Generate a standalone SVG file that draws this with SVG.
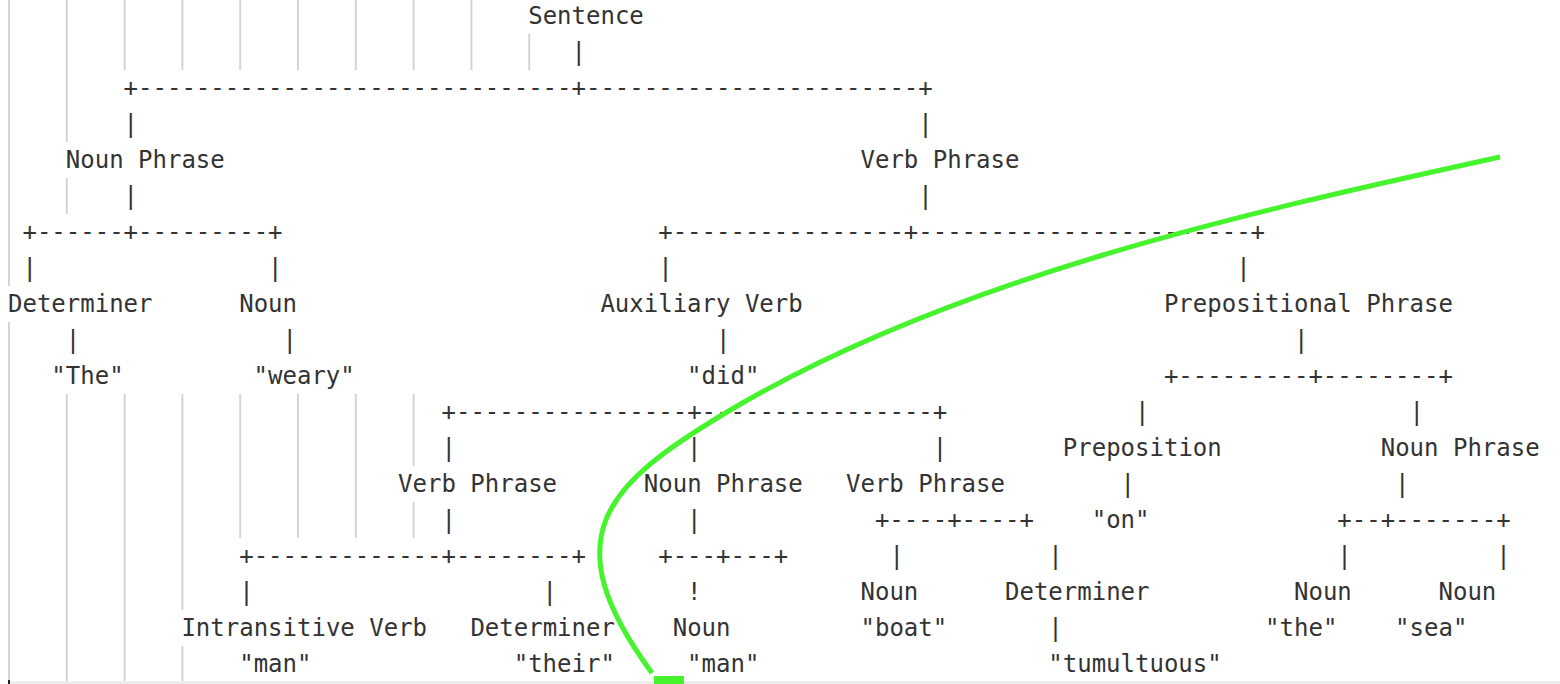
<svg xmlns="http://www.w3.org/2000/svg" width="1560" height="684" viewBox="0 0 1560 684">
<style>
.t{font-family:"DejaVu Sans Mono","Liberation Mono",monospace;font-size:24px;fill:#333}
.g{stroke:#d4d4d4;stroke-width:2;fill:none}
.hl{stroke:#46f42d;stroke-width:5;fill:none}
</style>
<rect x="0" y="0" width="1560" height="684" fill="#fff"/>
<g id="guides">
<path class="g" d="M9,0V286M9,322V681M66.8,0V142M66.8,178V214M66.8,394V681M124.6,0V70M124.6,394V681M182.4,0V70M182.4,394V610M182.4,646V681M240.2,0V70M240.2,394V538M298,0V70M298,394V538M355.8,0V70M355.8,394V538M413.6,0V70M413.6,394V466M413.6,502V538M471.4,0V70M529.2,34V70"/>
</g>
<rect x="10" y="681" width="1550" height="3" fill="#ececec"/>
<rect x="8" y="680" width="2" height="4" fill="#222"/>
<g id="connectors" class="t">
<text x="571.5" y="60">|</text>
<text x="123.6" y="96">+------------------------------+-----------------------+</text>
<text x="123.6" y="132">|</text><text x="918.3" y="132">|</text>
<text x="123.6" y="204">|</text><text x="918.3" y="204">|</text>
<text x="22.45" y="240">+------+---------+</text>
<text x="658.2" y="240">+----------------+-----------------------+</text>
<text x="22.45" y="276">|</text><text x="268.1" y="276">|</text><text x="658.2" y="276">|</text><text x="1236.2" y="276">|</text>
<text x="65.8" y="348">|</text><text x="282.5" y="348">|</text><text x="716" y="348">|</text><text x="1294" y="348">|</text>
<text x="1163.9" y="384">+---------+--------+</text>
<text x="441.5" y="420">+----------------+----------------+</text>
<text x="1135" y="420">|</text><text x="1409.6" y="420">|</text>
<text x="441.5" y="456">|</text><text x="687.1" y="456">|</text><text x="932.7" y="456">|</text>
<text x="1120.6" y="492">|</text><text x="1395.1" y="492">|</text>
<text x="441.5" y="528">|</text><text x="687.1" y="528">|</text>
<text x="874.9" y="528">+----+----+</text>
<text x="1337.3" y="528">+--+-------+</text>
<text x="239.2" y="564">+-------------+--------+</text>
<text x="658.2" y="564">+---+---+</text>
<text x="889.4" y="564">|</text><text x="1048.3" y="564">|</text><text x="1337.3" y="564">|</text><text x="1496.2" y="564">|</text>
<text x="239.2" y="600">|</text><text x="542.6" y="600">|</text><text x="687.1" y="600">!</text>
<text x="1048.3" y="636">|</text>
</g>
<g id="n-sentence"><text class="t" x="528.2" y="24">Sentence</text></g>
<g id="n-np1"><text class="t" x="65.8" y="168">Noun Phrase</text></g>
<g id="n-vp1"><text class="t" x="860.5" y="168">Verb Phrase</text></g>
<g id="n-det1"><text class="t" x="8" y="312">Determiner</text></g>
<g id="n-noun1"><text class="t" x="239.2" y="312">Noun</text></g>
<g id="n-aux"><text class="t" x="600.4" y="312">Auxiliary Verb</text></g>
<g id="n-pp"><text class="t" x="1163.9" y="312">Prepositional Phrase</text></g>
<g id="n-the"><text class="t" x="51.35" y="384">"The"</text></g>
<g id="n-weary"><text class="t" x="253.6" y="384">"weary"</text></g>
<g id="n-did"><text class="t" x="687.1" y="384">"did"</text></g>
<g id="n-prep"><text class="t" x="1062.8" y="456">Preposition</text></g>
<g id="n-np3"><text class="t" x="1380.7" y="456">Noun Phrase</text></g>
<g id="n-vp2"><text class="t" x="398.1" y="492">Verb Phrase</text></g>
<g id="n-np2"><text class="t" x="643.8" y="492">Noun Phrase</text></g>
<g id="n-vp3"><text class="t" x="846" y="492">Verb Phrase</text></g>
<g id="n-on"><text class="t" x="1091.7" y="528">"on"</text></g>
<g id="n-noun3"><text class="t" x="860.5" y="600">Noun</text></g>
<g id="n-det3"><text class="t" x="1005" y="600">Determiner</text></g>
<g id="n-noun4"><text class="t" x="1294" y="600">Noun</text></g>
<g id="n-noun5"><text class="t" x="1438.5" y="600">Noun</text></g>
<g id="n-iv"><text class="t" x="181.4" y="636">Intransitive Verb</text></g>
<g id="n-det2"><text class="t" x="470.4" y="636">Determiner</text></g>
<g id="n-noun2"><text class="t" x="672.7" y="636">Noun</text></g>
<g id="n-boat"><text class="t" x="860.5" y="636">"boat"</text></g>
<g id="n-the2"><text class="t" x="1265.1" y="636">"the"</text></g>
<g id="n-sea"><text class="t" x="1395.1" y="636">"sea"</text></g>
<g id="n-man1"><text class="t" x="239.2" y="672">"man"</text></g>
<g id="n-their"><text class="t" x="513.7" y="672">"their"</text></g>
<g id="n-man2"><text class="t" x="687.1" y="672">"man"</text></g>
<g id="n-tumultuous"><text class="t" x="1048.3" y="672">"tumultuous"</text></g>
<g id="annotation">
<path class="hl" d="M1500,157 C1240,214 950,279 727,412 C607,484 551,536 652,673"/>
<rect x="654" y="676" width="30" height="8" fill="#46f42d"/>
</g>
</svg>
